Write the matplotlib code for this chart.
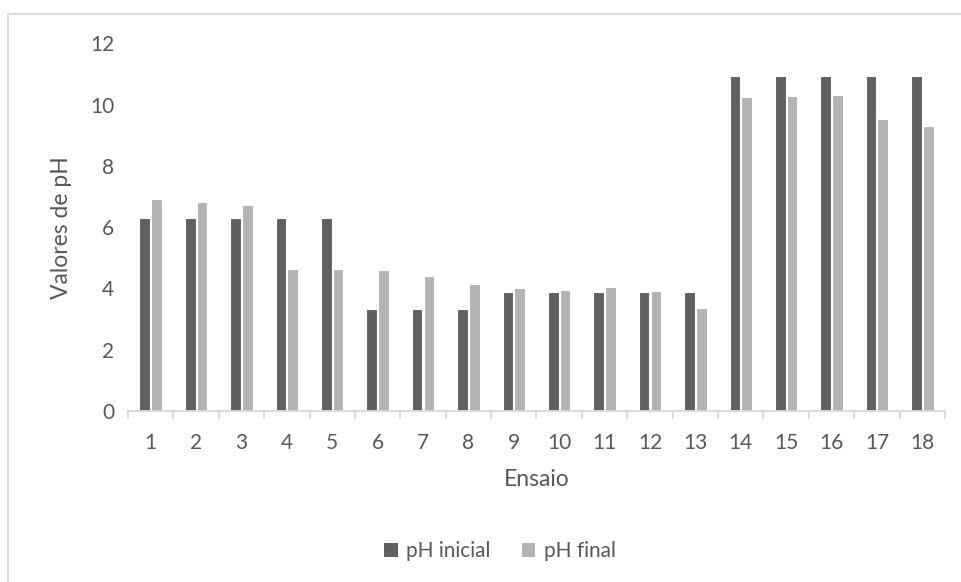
import matplotlib
matplotlib.use("Agg")
import matplotlib.pyplot as plt
from matplotlib.patches import Patch
from matplotlib.lines import Line2D
import numpy as np

plt.rcParams['font.family'] = ['Lato', 'DejaVu Sans']

ensaios = [str(i) for i in range(1, 19)]
ph_inicial = [6.30, 6.30, 6.30, 6.30, 6.30, 3.33, 3.33, 3.33, 3.88, 3.88,
              3.88, 3.88, 3.88, 10.92, 10.92, 10.92, 10.92, 10.92]
ph_final = [6.92, 6.81, 6.71, 4.63, 4.64, 4.61, 4.40, 4.14, 4.00, 3.96,
            4.04, 3.91, 3.37, 10.25, 10.27, 10.30, 9.53, 9.30]
y_ticks = [0, 2, 4, 6, 8, 10, 12]

c_dark = '#606060'
c_light = '#b3b3b3'
txt = '#595959'
axc = '#d9d9d9'

fig = plt.figure(figsize=(9.61, 5.82), dpi=100)
ax = fig.add_axes([128/961, 1-411/582, (945-128)/961, (411-43.4)/582])

x = np.arange(len(ensaios))
w = 0.235
ax.bar(x - 0.13, ph_inicial, width=w, color=c_dark, edgecolor='white', linewidth=0.8, label='pH inicial')
ax.bar(x + 0.13, ph_final, width=w, color=c_light, edgecolor='white', linewidth=0.8, label='pH final')

ax.set_xlim(-0.5, len(ensaios) - 0.5)
ax.set_ylim(0, 12)
ax.set_yticks(y_ticks)
ax.set_yticklabels([str(v) for v in y_ticks])
ax.set_xticks(x)
ax.set_xticklabels(ensaios)
ax.set_xticks(np.arange(-0.5, len(ensaios)), minor=True)
ax.tick_params(axis='x', which='major', length=0, pad=16, labelsize=15, labelcolor=txt)
ax.tick_params(axis='x', which='minor', length=6, width=1.3, color=axc, direction='out')
ax.tick_params(axis='y', length=0, pad=10, labelsize=15, labelcolor=txt)

for s in ['top', 'right', 'left']:
    ax.spines[s].set_visible(False)
ax.spines['bottom'].set_color(axc)
ax.spines['bottom'].set_linewidth(1.3)

ax.set_xlabel('Ensaio', fontsize=16.5, color=txt, labelpad=11)
ax.set_ylabel('Valores de pH', fontsize=16.5, color=txt, labelpad=13)

handles = [Patch(facecolor=c_dark, edgecolor='none', label='pH inicial'),
           Patch(facecolor=c_light, edgecolor='none', label='pH final')]
fig.legend(handles=handles, loc='center', bbox_to_anchor=(500/961, 1-551/582),
           ncol=2, frameon=False, fontsize=15, labelcolor=txt,
           handlelength=0.65, handleheight=0.65, handletextpad=0.4, columnspacing=1.5)

bx = 8/961
by = 1-14/582
fig.add_artist(Line2D([bx, bx, 1.0], [0.0, by, by], transform=fig.transFigure,
                      color=axc, linewidth=1.3))

fig.savefig('out.png', dpi=100, facecolor='white')
